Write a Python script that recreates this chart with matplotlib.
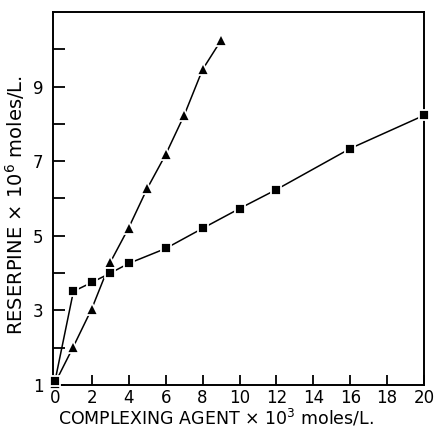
import matplotlib
matplotlib.use("Agg")
import matplotlib.pyplot as plt

plt.rcParams['font.family'] = ['DejaVu Sans']
plt.rcParams['mathtext.fontset'] = 'dejavusans'

# Reserpine solubility vs. complexing agent concentration
triangle_x = [0, 1, 2, 3, 4, 5, 6, 7, 8, 9]
triangle_y = [1.05, 2.03, 3.05, 4.29, 5.22, 6.27, 7.18, 8.23, 9.46, 10.24]

square_x = [0, 1, 2, 3, 4, 6, 8, 10, 12, 16, 20]
square_y = [1.1, 3.51, 3.75, 4.0, 4.26, 4.66, 5.2, 5.73, 6.24, 7.34, 8.23]

x_ticks = [0, 2, 4, 6, 8, 10, 12, 14, 16, 18, 20]
y_major = [1, 3, 5, 7, 9]
y_minor = [2, 4, 6, 8, 10]

fig = plt.figure(figsize=(4.39, 4.29), dpi=100)
ax = fig.add_axes([0.121, 0.1026, 0.845, 0.8694])

ax.plot(triangle_x, triangle_y, color='black', lw=1.1, marker='^', ms=9,
        mfc='black', mec='white', mew=1.3, clip_on=False, zorder=3)
ax.plot(square_x, square_y, color='black', lw=1.1, marker='s', ms=7,
        mfc='black', mec='white', mew=1.3, clip_on=False, zorder=3)

ax.set_xlim(-0.1, 20)
ax.set_ylim(1, 11)
ax.set_xticks(x_ticks)
ax.set_xticklabels([str(v) for v in x_ticks])
ax.set_yticks(y_major)
ax.set_yticklabels([str(v) for v in y_major])
ax.set_yticks(y_minor, minor=True)

ax.tick_params(axis='both', which='both', direction='in', width=1.3,
               labelsize=12, colors='black')
ax.tick_params(axis='x', length=7, pad=3)
ax.tick_params(axis='y', which='major', length=8.5, pad=7)
ax.tick_params(axis='y', which='minor', length=8.5)

for side in ['left', 'bottom', 'right', 'top']:
    ax.spines[side].set_linewidth(1.4)

ax.set_xlabel('COMPLEXING AGENT \u00d7 10$^{3}$ moles/L.', fontsize=12.5)
ax.xaxis.set_label_coords(0.438, -0.061)
ax.set_ylabel('RESERPINE \u00d7 10$^{6}$ moles/L.', fontsize=14)
ax.yaxis.set_label_coords(-0.07, 0.482)

fig.savefig('out.png', dpi=100)
